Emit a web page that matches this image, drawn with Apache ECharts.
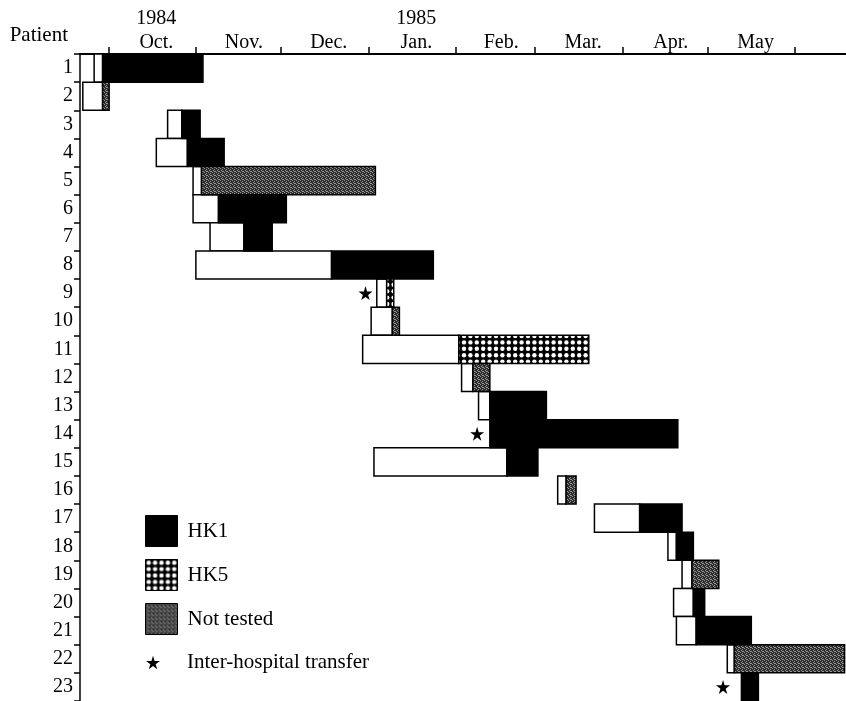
<!DOCTYPE html>
<html lang="en">
<head>
<meta charset="UTF-8">
<title>Patients by strain</title>
<script src="https://cdn.jsdelivr.net/npm/echarts@6/dist/echarts.min.js"></script>
<style>html, body { margin: 0; padding: 0; background: #fff; }</style>
</head>
<body>
<div id="main" style="width:846px; height:701px;"></div>
<script type="text/javascript">

// all times in days counted from 1 Oct 1984
var patients = ['1', '2', '3', '4', '5', '6', '7', '8', '9', '10', '11', '12',
    '13', '14', '15', '16', '17', '18', '19', '20', '21', '22', '23'];
// start of the open (white) period
var waitStart = [-5, -9, 21, 17, 30, 30, 36, 31, 95, 93, 90, 125,
    131, 135, 94, 159, 172, 198, 203, 200, 201, 219, 224];
// start of the strain period (end of white)
var strainStart = [-2, -2, 26, 28, 33, 39, 48, 79, 98.5, 100.5, 124, 129,
    135, 135, 141, 162, 188, 201, 206.5, 207, 208, 221.5, 224];
// end of the strain period
var strainEnd = [33.5, 0.3, 32.5, 41, 94.5, 63, 58, 115, 101, 103, 170, 135,
    155, 201.5, 152, 165.5, 203, 207, 216, 211, 227.5, 260.5, 230];
var strain = ['HK1', 'Not tested', 'HK1', 'HK1', 'Not tested', 'HK1', 'HK1', 'HK1',
    'HK5', 'Not tested', 'HK5', 'Not tested', 'HK1', 'HK1', 'HK1', 'Not tested',
    'HK1', 'HK1', 'Not tested', 'HK1', 'HK1', 'Not tested', 'HK1'];

// inter-hospital transfers
var transferPatient = ['9', '14', '23'];
var transferDay = [91, 130.5, 217.5];

// month boundaries and labels
var monthStarts = [0, 31, 61, 92, 123, 151, 182, 212, 243];
var monthLabelDays = [17, 48, 78, 109, 139, 168, 199, 229];
var monthNames = ['Oct.', 'Nov.', 'Dec.', 'Jan.', 'Feb.', 'Mar.', 'Apr.', 'May'];
var yearNames = ['1984', '', '', '1985', '', '', '', ''];

var strains = ['HK1', 'HK5', 'Not tested'];

var FONT = 'Liberation Serif';

// fill patterns
function dotsPattern() {
    var c = document.createElement('canvas');
    c.width = 32; c.height = 32;
    var ctx = c.getContext('2d');
    ctx.fillStyle = '#000';
    ctx.fillRect(0, 0, 32, 32);
    ctx.fillStyle = '#fff';
    for (var i = 0; i < 5; i++) {
        for (var j = 0; j < 5; j++) {
            ctx.beginPath();
            ctx.arc(3.2 + 6.4 * i, 3.2 + 6.4 * j, 2.2, 0, Math.PI * 2);
            ctx.fill();
        }
    }
    return c;
}
function stipplePattern() {
    var c = document.createElement('canvas');
    c.width = 4; c.height = 4;
    var ctx = c.getContext('2d');
    ctx.fillStyle = '#2a2a2a';
    ctx.fillRect(0, 0, 4, 4);
    ctx.fillStyle = '#9a9a9a';
    [[0, 0], [2, 1], [1, 2], [3, 3], [2, 3]].forEach(function (p) {
        ctx.fillRect(p[0], p[1], 1, 1);
    });
    return c;
}

var strainColor = {
    'HK1': '#000',
    'HK5': {image: dotsPattern(), repeat: 'repeat'},
    'Not tested': {image: stipplePattern(), repeat: 'repeat'}
};

function renderSpan(params, api) {
    var cat = api.value(0);
    var a = api.coord([api.value(1), cat]);
    var b = api.coord([api.value(2), cat]);
    var h = api.size([0, 1])[1];
    if (b[0] - a[0] <= 0) return null;
    return {
        type: 'rect',
        shape: {x: a[0], y: a[1] - h / 2, width: b[0] - a[0], height: h},
        style: api.style({stroke: '#000', lineWidth: 1.5})
    };
}

var waitData = patients.map(function (p, i) {
    return [i, waitStart[i], strainStart[i]];
});

var series = [{
    name: 'waiting',
    type: 'custom',
    renderItem: renderSpan,
    itemStyle: {color: '#fff'},
    encode: {x: [1, 2], y: 0},
    data: waitData
}];

strains.forEach(function (s) {
    var rows = [];
    patients.forEach(function (p, i) {
        if (strain[i] === s) rows.push([i, strainStart[i], strainEnd[i]]);
    });
    series.push({
        name: s,
        type: 'custom',
        renderItem: renderSpan,
        itemStyle: {color: strainColor[s], borderColor: '#000', borderWidth: 1.5},
        encode: {x: [1, 2], y: 0},
        data: rows
    });
});

var STAR = 'path://M50,0 L61,35 L98,35 L68,57 L79,91 L50,70 L21,91 L32,57 L2,35 L39,35 Z';

series.push({
    name: 'Inter-hospital transfer',
    type: 'scatter',
    symbol: STAR,
    symbolSize: 14,
    itemStyle: {color: '#000', opacity: 1},
    data: transferPatient.map(function (p, i) {
        return [transferDay[i], patients.indexOf(p)];
    })
});

let myChart = echarts.init(document.getElementById('main'));

let option = {
    animation: false,
    textStyle: {fontFamily: FONT, color: '#000'},
    grid: {left: 80, right: 0, top: 54, height: 651},
    legend: [{
        data: strains,
        orient: 'vertical',
        left: 145,
        top: 515,
        padding: 0,
        icon: 'rect',
        itemWidth: 32,
        itemHeight: 31,
        itemGap: 12,
        selectedMode: false,
        itemStyle: {borderColor: '#000', borderWidth: 1},
        textStyle: {fontFamily: FONT, fontSize: 21, color: '#000', padding: [0, 0, 0, 5]}
    }, {
        data: ['Inter-hospital transfer'],
        left: 146,
        top: 652,
        padding: 0,
        itemWidth: 14,
        itemHeight: 14,
        selectedMode: false,
        itemStyle: {opacity: 1},
        textStyle: {fontFamily: FONT, fontSize: 21, color: '#000', padding: [0, 0, 0, 22]}
    }],
    xAxis: {
        type: 'value',
        position: 'top',
        min: -10,
        max: 261,
        splitLine: {show: false},
        axisLine: {show: true, onZero: false, lineStyle: {color: '#000', width: 2}},
        axisTick: {
            show: true,
            customValues: monthStarts,
            length: 7,
            lineStyle: {color: '#000', width: 1.5}
        },
        axisLabel: {
            customValues: monthLabelDays,
            margin: -1,
            fontFamily: FONT,
            fontSize: 20,
            lineHeight: 24,
            color: '#000',
            formatter: function (v) {
                var i = monthLabelDays.indexOf(v);
                if (i < 0) return '';
                return yearNames[i] ? yearNames[i] + '\n' + monthNames[i] : monthNames[i];
            }
        }
    },
    yAxis: {
        type: 'category',
        data: patients,
        inverse: true,
        name: 'Patient',
        nameLocation: 'start',
        nameGap: 8,
        nameTextStyle: {fontFamily: FONT, fontSize: 21, color: '#000', align: 'right', padding: [0, 12, 0, 0]},
        axisLine: {show: true, onZero: false, lineStyle: {color: '#000', width: 1.5}},
        axisTick: {show: true, length: 6, lineStyle: {color: '#000', width: 1.5}},
        axisLabel: {margin: 7, fontFamily: FONT, fontSize: 20, color: '#000'},
        splitLine: {show: false}
    },
    series: series
};

myChart.setOption(option);
</script>
</body>
</html>
